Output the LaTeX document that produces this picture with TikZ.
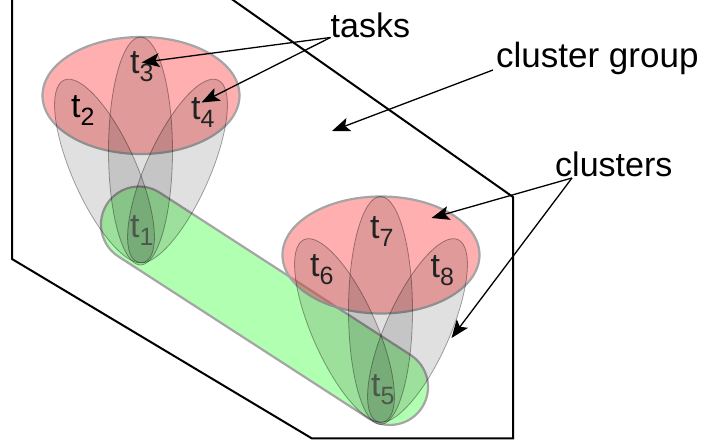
\documentclass[tikz,border=0pt]{standalone}
\usepackage{fontspec}
\setmainfont{Liberation Sans}
\usetikzlibrary{shapes.geometric, arrows.meta, calc}

\definecolor{clusterfill}{RGB}{255,96,96}
\definecolor{linkfill}{RGB}{100,255,100}
\definecolor{rimgray}{RGB}{165,165,165}
\definecolor{lowlabel}{RGB}{75,88,75}
\definecolor{tasklabel}{RGB}{35,35,35}

\tikzset{
  rim/.style={draw=rimgray, line width=2.2pt},
  cluster/.style={ellipse, rim, fill=clusterfill, fill opacity=0.5,
    minimum width=197pt, minimum height=117pt, inner sep=0pt},
  link/.style={rectangle, rim, fill=linkfill, fill opacity=0.5,
    rounded corners=38pt, minimum width=375pt, minimum height=76pt, inner sep=0pt},
  task/.style={ellipse, draw=black, draw opacity=0.35, line width=0.8pt,
    fill=black, fill opacity=0.12, inner sep=0pt, minimum width=64pt},
  tlabel/.style={anchor=base west, inner sep=0pt, text=tasklabel,
    font=\fontsize{34}{34}\selectfont},
  note/.style={anchor=base west, inner sep=0pt, font=\fontsize{34}{34}\selectfont},
  pointer/.style={line width=1.3pt, -{Stealth[length=18pt,width=14pt,inset=4pt]}},
  frame/.style={line width=2pt, line join=miter}
}
% task name with a lowered index
\newcommand{\tsub}[1]{t\raisebox{-8pt}{\fontsize{25}{25}\selectfont #1}}

\begin{document}
\begin{tikzpicture}[x=1pt, y=-1pt]
  \useasboundingbox (0,0) rectangle (705,446);

  % cluster group outline
  \draw[frame] (12,-5) -- (12,259) -- (312,438.5) -- (513,438.5) -- (513,197) -- (225.9,-5);

  % link between the two clusters
  \node[link, rotate=-32.9] (link) at (264.5,305.75) {};

  % clusters
  \node[cluster] (c1) at (141,95.5) {};
  \node[cluster] (c2) at (381,255) {};

  % tasks of the first cluster
  \node[task, minimum height=228pt] (e3) at (140.5,151) {};
  \node[task, minimum height=199pt, rotate=24] (e2) at (104.5,171) {};
  \node[task, minimum height=199pt, rotate=-24] (e4) at (177.5,171) {};

  % tasks of the second cluster
  \node[task, minimum height=228pt] (e7) at (380.5,310.5) {};
  \node[task, minimum height=199pt, rotate=24] (e6) at (344.5,330.5) {};
  \node[task, minimum height=199pt, rotate=-24] (e8) at (417.5,330.5) {};

  % task names
  \node[tlabel, text=lowlabel] (t1) at (130,238) {\tsub{1}};
  \node[tlabel, text=black] (t2) at (71,118) {\tsub{2}};
  \node[tlabel] (t3) at (130,74) {\tsub{3}};
  \node[tlabel] (t4) at (191,120) {\tsub{4}};
  \node[tlabel, text=lowlabel] (t5) at (371,397) {\tsub{5}};
  \node[tlabel] (t6) at (310,277) {\tsub{6}};
  \node[tlabel] (t7) at (370,239) {\tsub{7}};
  \node[tlabel] (t8) at (430.5,278) {\tsub{8}};

  % annotations
  \node[note] (tasks) at (330.5,37.5) {tasks};
  \node[note, font=\fontsize{35}{35}\selectfont] (group) at (496,67.5) {cluster group};
  \node[note] (clusters) at (555,176.5) {clusters};

  \coordinate (tip3) at (141.5,62.5);
  \coordinate (tip4) at (201.5,102.5);
  \coordinate (groupdot) at (332,131);
  \coordinate (tipc1) at (431.5,218);
  \coordinate (tipc2) at (451.5,338);

  \draw[pointer] (tasks.base west) -- (tip3);
  \draw[pointer] (tasks.base west) -- (tip4);
  \draw[pointer] ($(group.base west)+(-3,2.5)$) -- (groupdot);
  \draw[pointer] ($(clusters.base west)+(17,1.5)$) -- (tipc1);
  \draw[pointer] ($(clusters.base west)+(17,1.5)$) -- (tipc2);
\end{tikzpicture}
\end{document}
